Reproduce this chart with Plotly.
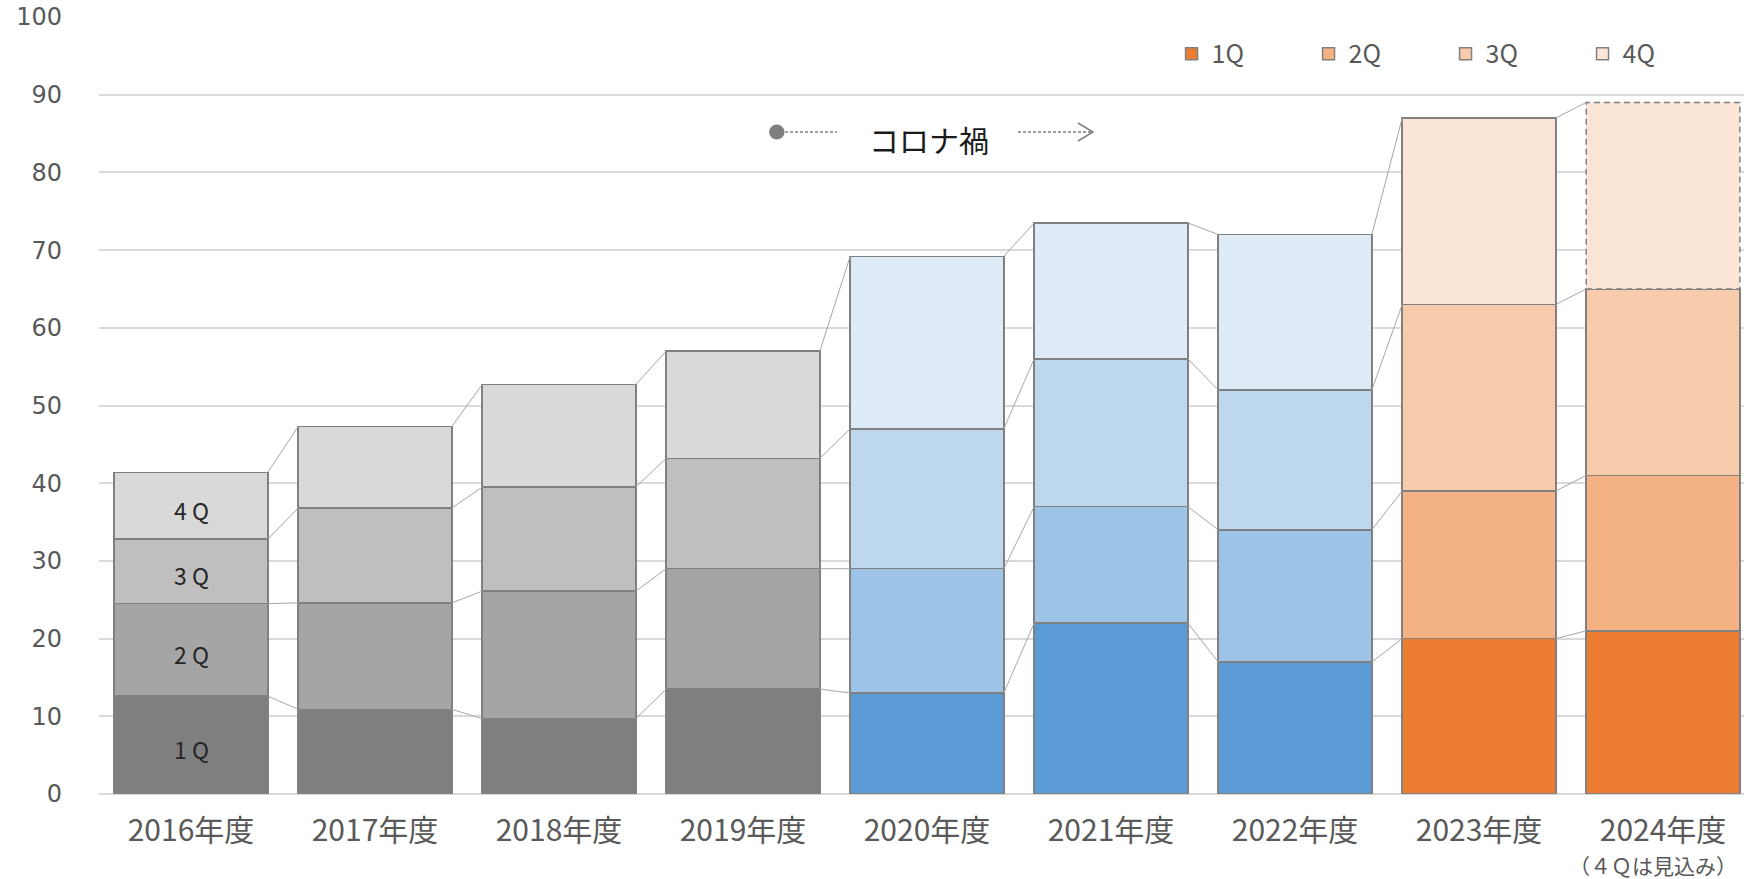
import plotly.graph_objects as go

# ---- data ----
years = ["2016年度", "2017年度", "2018年度", "2019年度", "2020年度",
         "2021年度", "2022年度", "2023年度", "2024年度"]
quarters = ["1Q", "2Q", "3Q", "4Q"]
q1 = [12.6, 10.9, 9.7, 13.5, 13.0, 22.0, 17.0, 20.0, 21.0]
q2 = [11.9, 13.7, 16.4, 15.5, 16.0, 15.0, 17.0, 19.0, 20.0]
q3 = [8.3, 12.2, 13.4, 14.2, 18.0, 19.0, 18.0, 24.0, 24.0]
q4 = [8.6, 10.5, 13.2, 13.8, 22.2, 17.5, 20.0, 24.0, 24.0]
in_bar_labels = ["1 Q", "2 Q", "3 Q", "4 Q"]
sub_label = "（４Ｑは見込み）"
corona_label = "コロナ禍"

gray_colors = ["#7F7F7F", "#A5A5A5", "#BFBFBF", "#D9D9D9"]
blue_colors = ["#5B9BD5", "#9DC3E6", "#BDD7EE", "#DEEBF7"]
orange_colors = ["#ED7D31", "#F4B183", "#F8CBAD", "#FBE5D6"]
groups = [(range(0, 4), gray_colors, False),
          (range(4, 7), blue_colors, False),
          (range(7, 9), orange_colors, True)]

series = [q1, q2, q3, q4]
n = len(years)
x = list(range(n))
bargap = 0.165
half = (1 - bargap) / 2
forecast_idx = 8  # 2024 4Q is a forecast (dashed outline)

# cumulative tops
cum = []
run = [0.0] * n
for s in series:
    run = [r + v for r, v in zip(run, s)]
    cum.append(run[:])

fig = go.Figure()
for idxs, colors, show in groups:
    idxs = list(idxs)
    for qi, s in enumerate(series):
        lw = [0 if (qi == 3 and i == forecast_idx) else 1.5 for i in idxs]
        fig.add_trace(go.Bar(
            x=[x[i] for i in idxs], y=[s[i] for i in idxs],
            name=quarters[qi], showlegend=show, legendrank=qi + 1,
            marker=dict(color=colors[qi], line=dict(color="#808080", width=lw)),
            hoverinfo="skip",
        ))

# series lines connecting stacked segments
for qi in range(4):
    lx, ly = [], []
    for i in range(n - 1):
        lx += [x[i] + half, x[i + 1] - half, None]
        ly += [cum[qi][i], cum[qi][i + 1], None]
    fig.add_trace(go.Scatter(x=lx, y=ly, mode="lines", showlegend=False,
                             line=dict(color="#A6A6A6", width=1), hoverinfo="skip"))

shapes = []
# dashed outline for forecast segment
shapes.append(dict(type="rect", xref="x", yref="y",
                   x0=x[forecast_idx] - half, x1=x[forecast_idx] + half,
                   y0=cum[2][forecast_idx], y1=cum[3][forecast_idx],
                   line=dict(color="#808080", width=1.5, dash="6px,4px"),
                   fillcolor="rgba(0,0,0,0)", layer="above"))

# corona marker decorations (pixel-derived positions)
def px_x(p):
    return -0.5 + (p - 99) / 184.0

def px_y(p):
    return (794 - p) / 7.77

yc = px_y(132)
shapes.append(dict(type="line", xref="x", yref="y", x0=px_x(780), x1=px_x(837), y0=yc, y1=yc,
                   line=dict(color="#7F7F7F", width=1.5, dash="3px,2px")))
shapes.append(dict(type="circle", xref="x", yref="y",
                   x0=px_x(769), x1=px_x(784.5), y0=px_y(139.5), y1=px_y(124.5),
                   line=dict(color="#7F7F7F", width=0), fillcolor="#7F7F7F"))
shapes.append(dict(type="line", xref="x", yref="y", x0=px_x(1018), x1=px_x(1092), y0=yc, y1=yc,
                   line=dict(color="#7F7F7F", width=1.5, dash="3px,2px")))
shapes.append(dict(type="path", xref="x", yref="y",
                   path=f"M {px_x(1078)} {px_y(123)} L {px_x(1093)} {yc} L {px_x(1078)} {px_y(141)}",
                   line=dict(color="#7F7F7F", width=1.5)))

annotations = []
for qi in range(4):
    base = cum[qi][0] - series[qi][0]
    annotations.append(dict(x=x[0], y=base + series[qi][0] / 2, xref="x", yref="y",
                            text=in_bar_labels[qi], showarrow=False, yshift=-4,
                            font=dict(family="Noto Sans CJK JP", size=23, color="#262626")))
annotations.append(dict(x=px_x(929), y=px_y(139), xref="x", yref="y", text=corona_label,
                        showarrow=False,
                        font=dict(family="Noto Sans CJK JP", size=30, color="#1A1A1A")))
annotations.append(dict(x=x[8], y=(794 - 865) / 777.0, xref="x", yref="paper", yanchor="middle",
                        text=sub_label, showarrow=False, xshift=-10,
                        font=dict(family="Noto Sans CJK JP", size=21, color="#595959")))

fig.update_layout(
    width=1744, height=879,
    margin=dict(l=99, r=0, t=17, b=85),
    paper_bgcolor="white", plot_bgcolor="white",
    barmode="stack", bargap=bargap,
    shapes=shapes, annotations=annotations,
    legend=dict(orientation="h", x=0.652, y=0.982, xanchor="left", yanchor="top",
                font=dict(family="Noto Sans CJK JP", size=25, color="#595959"),
                traceorder="normal", entrywidth=92, itemwidth=30,
                bgcolor="rgba(0,0,0,0)"),
    xaxis=dict(range=[-0.5, 8.44], tickmode="array", tickvals=x, ticktext=years,
               showgrid=False, zeroline=False, showline=False, ticks="",
               ticklabelstandoff=16,
               tickfont=dict(family="Noto Sans CJK JP", size=30, color="#595959")),
    yaxis=dict(range=[0, 100], tickmode="array", tickvals=list(range(0, 101, 10)),
               showgrid=True, gridcolor="#D9D9D9", gridwidth=1.5,
               zeroline=True, zerolinecolor="#D9D9D9", zerolinewidth=1.5,
               showline=False, ticks="", ticklabelstandoff=36,
               tickfont=dict(family="DejaVu Sans", size=24, color="#595959")),
)

fig.write_html("out.html", config={"displayModeBar": False},
               post_script="document.body.style.margin='0';document.body.style.overflow='hidden';")
